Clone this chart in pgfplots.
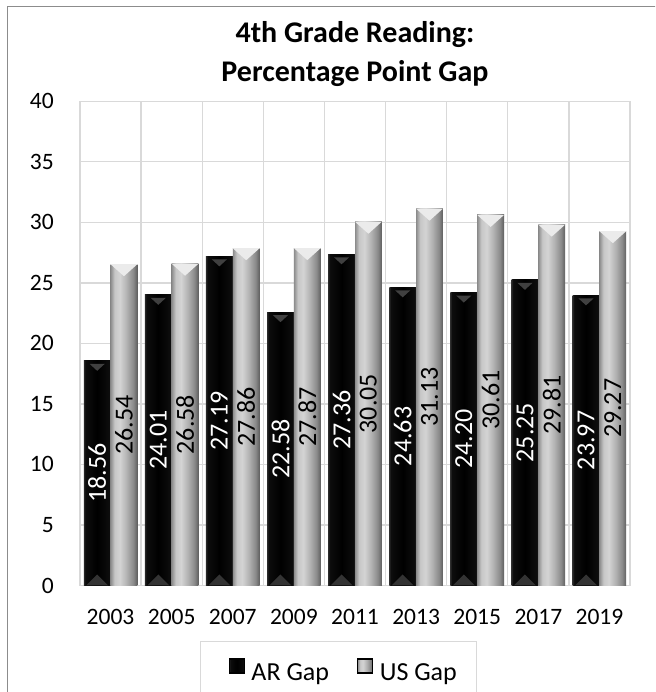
\documentclass[border=0pt]{standalone}
\usepackage{fontspec}
\setmainfont{Carlito}
\usepackage{graphicx}
\usepackage{pgfplots}
\pgfplotsset{compat=1.18}
\usepackage{pgfplotstable}

\definecolor{gridgray}{HTML}{D9D9D9}
\definecolor{framegray}{HTML}{8C8C8C}

% bar body shadings (horizontal bevel look); the path box maps onto 25bp--75bp
\pgfdeclarehorizontalshading{arshade}{100bp}{%
  color(0bp)=(black!84); color(25bp)=(black!84); color(28bp)=(black!95);
  color(50bp)=(black); color(72bp)=(black!95); color(75bp)=(black!86);
  color(100bp)=(black!86)}
\pgfdeclarehorizontalshading{usshade}{100bp}{%
  color(0bp)=(black!45); color(25bp)=(black!45); color(32.5bp)=(black!22);
  color(42.5bp)=(black!17); color(55bp)=(black!30); color(67.5bp)=(black!46);
  color(75bp)=(black!63); color(100bp)=(black!63)}

% top and bottom bevel facets, offset to the left/right bar of each pair
\pgfdeclareplotmark{ustop}{%
  \pgfpathmoveto{\pgfqpoint{0pt}{0pt}}%
  \pgfpathlineto{\pgfqpoint{26.8pt}{0pt}}%
  \pgfpathlineto{\pgfqpoint{13.4pt}{-12pt}}%
  \pgfpathclose\pgfusepathqfill}
\pgfdeclareplotmark{artop}{%
  \pgfpathmoveto{\pgfqpoint{-21pt}{-3pt}}%
  \pgfpathlineto{\pgfqpoint{-5.8pt}{-3pt}}%
  \pgfpathlineto{\pgfqpoint{-13.4pt}{-10pt}}%
  \pgfpathclose\pgfusepathqfill}
\pgfdeclareplotmark{arbase}{%
  \pgfpathmoveto{\pgfqpoint{-24.4pt}{0pt}}%
  \pgfpathlineto{\pgfqpoint{-2.4pt}{0pt}}%
  \pgfpathlineto{\pgfqpoint{-13.4pt}{11pt}}%
  \pgfpathclose\pgfusepathqfill}

\pgfplotstableread{
idx ar us
0 18.56 26.54
1 24.01 26.58
2 27.19 27.86
3 22.58 27.87
4 27.36 30.05
5 24.63 31.13
6 24.20 30.61
7 25.25 29.81
8 23.97 29.27
}\gapdata

\pgfplotsset{
  arbar/.style={ybar, bar width=26.8pt, bar shift=-13.4pt, draw=none,
    shading=arshade},
  usbar/.style={ybar, bar width=26.8pt, bar shift=13.4pt, draw=none,
    shading=usshade},
  % value labels, set upright-rotated at half the bar height
  barlabel/.style 2 args={draw=none, mark=none, point meta=explicit,
    nodes near coords={\rotatebox{90}{\pgfmathprintnumber[fixed,fixed zerofill,precision=2]{\pgfplotspointmeta}}},
    every node near coord/.append style={anchor=center, inner sep=0pt,
      xshift=#1, text=#2, font=\fontsize{26}{26}\selectfont}},
}

\begin{document}
\begin{tikzpicture}
\path[use as bounding box] (0pt,0pt) rectangle (655pt,692pt);
\clip (0pt,0pt) rectangle (655pt,692pt);
\fill[white] (0pt,0pt) rectangle (655pt,692pt);
\draw[framegray, line width=1.6pt] (7.5pt,-20pt) rectangle (700pt,685.3pt);
\begin{axis}[
  at={(80pt,106.5pt)}, anchor=south west,
  scale only axis, width=550pt, height=484.2pt,
  xmin=-0.5, xmax=8.5, ymin=0, ymax=40,
  xtick={0,...,8},
  xticklabels={2003,2005,2007,2009,2011,2013,2015,2017,2019},
  minor xtick={-0.5,0.5,...,8.5},
  ytick={0,5,...,40},
  ymajorgrids, xminorgrids,
  major tick length=0pt, minor tick length=0pt,
  grid style={draw=gridgray, line width=1.3pt},
  minor grid style={draw=gridgray, line width=1.3pt},
  axis line style={draw=gridgray, line width=1.3pt},
  tick style={draw=none},
  ticklabel style={font=\fontsize{23.5}{28}\selectfont, inner sep=0pt},
  xticklabel style={yshift=-23.5pt},
  yticklabel style={xshift=-26pt},
  /pgf/number format/assume math mode=true,
  title={4th Grade Reading:\\Percentage Point Gap},
  title style={at={(0.5,1)}, anchor=south, inner sep=0pt, yshift=9pt,
    align=center, font=\bfseries\fontsize{30}{39}\selectfont},
  legend columns=2,
  legend style={at={(0.21818,-0.1140)}, anchor=north west,
    draw=gridgray, line width=1.3pt, inner xsep=19.5pt, inner ysep=17pt,
    font=\fontsize{26}{30}\selectfont, nodes={inner sep=0pt},
    column sep=6.5pt,
    /tikz/every even column/.append style={column sep=28pt}},
]
% one path per bar, so that each bar carries its own shading
\pgfplotsinvokeforeach{0,...,8}{%
  \addplot[arbar, forget plot, restrict x to domain=#1:#1]
    table[x=idx, y=ar] {\gapdata};
  \addplot[usbar, forget plot, restrict x to domain=#1:#1]
    table[x=idx, y=us] {\gapdata};
}
% bevel facets on the bar ends
\addplot[only marks, mark=ustop, mark options={fill=white!92!black, draw=none},
  forget plot] table[x=idx, y=us] {\gapdata};
\addplot[only marks, mark=artop, mark options={fill=black!75, draw=none},
  forget plot] table[x=idx, y=ar] {\gapdata};
\addplot[only marks, mark=arbase, mark options={fill=black!80, draw=none},
  forget plot]
  coordinates {(0,0) (1,0) (2,0) (3,0) (4,0) (5,0) (6,0) (7,0) (8,0)};
% value labels
\addplot[barlabel={-13.4pt}{white}, forget plot]
  table[x=idx, y expr=\thisrow{ar}/2, meta=ar] {\gapdata};
\addplot[barlabel={13.4pt}{black}, forget plot]
  table[x=idx, y expr=\thisrow{us}/2, meta=us] {\gapdata};
% legend
\addlegendimage{legend image code/.code={\path (-8.5pt,0pt);
    \shade[shading=arshade] (0pt,0pt) rectangle (15pt,14pt);}}
\addlegendentry{AR Gap}
\addlegendimage{legend image code/.code={%
    \shade[shading=usshade] (0pt,0pt) rectangle (15pt,14pt);}}
\addlegendentry{US Gap}
\end{axis}
\end{tikzpicture}
\end{document}
